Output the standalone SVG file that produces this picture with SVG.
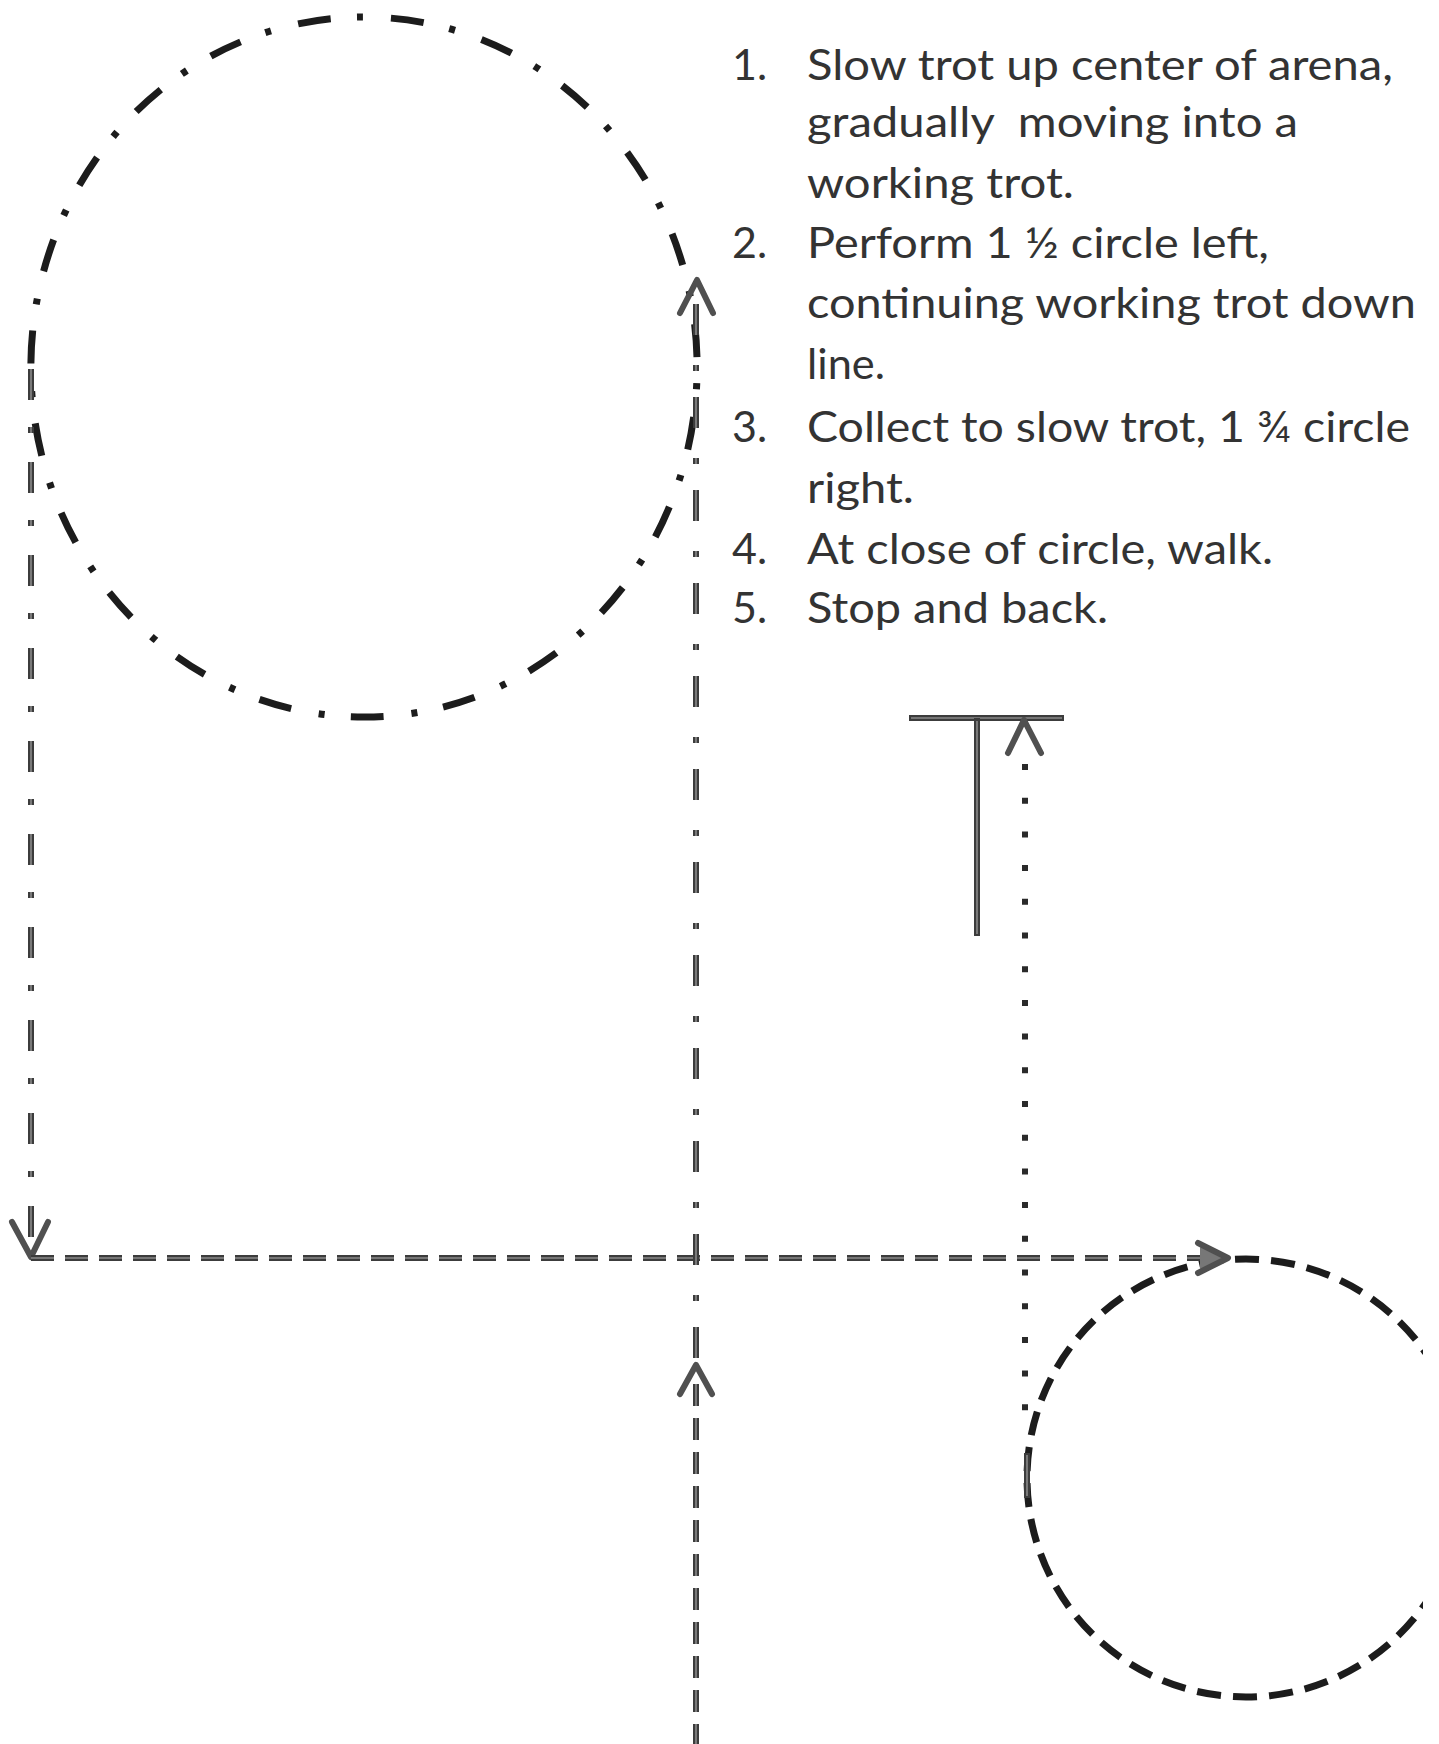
<svg xmlns="http://www.w3.org/2000/svg" width="1439" height="1744" viewBox="0 0 1439 1744">
<style>
.txt{font-family:Lato,'Noto Sans',sans-serif;font-size:43px;fill:#333}
.blk{fill:none;stroke:#1c1c1c;stroke-width:7}
.gry{fill:none;stroke:#3c3c3c;stroke-width:6}
.gin{fill:none;stroke:#8a8a8a;stroke-width:1.6}
.arw{fill:none;stroke:#505050;stroke-width:6;stroke-linecap:round;stroke-linejoin:round}
</style>
<defs>
<clipPath id="pageclip"><rect x="0" y="0" width="1423" height="1744"/></clipPath>
</defs>
<rect width="1439" height="1744" fill="#fff"/>

<g id="circle-left">
<path class="blk" d="M364 17 A333 350 0 1 1 364 717 A333 350 0 1 1 364 17" pathLength="2146" stroke-dasharray="6 28 33 26.3" stroke-dashoffset="7"/>
</g>

<g id="circle-right" clip-path="url(#pageclip)">
<path class="blk" d="M1246 1259 A219 219 0 1 1 1246 1697 A219 219 0 1 1 1246 1259" pathLength="1368" stroke-dasharray="24 12" stroke-dashoffset="11"/>
</g>

<g id="stop-marker">
<line class="gry" x1="909" y1="718" x2="1064" y2="718"/>
<line class="gin" x1="911" y1="718" x2="1062" y2="718"/>
<line class="gry" x1="977" y1="718" x2="977" y2="936"/>
<line class="gin" x1="977" y1="721" x2="977" y2="934"/>
</g>

<g id="connectors">
<!-- left line down from circle -->
<line class="gry" x1="31" y1="369" x2="31" y2="1252" stroke-dasharray="31 27 6 29"/>
<line class="gin" x1="31" y1="369" x2="31" y2="1252" stroke-dasharray="31 27 6 29"/>
<polyline class="arw" points="12,1222 31,1257 48,1222"/>
<!-- horizontal line to right circle -->
<line class="gry" x1="31" y1="1258" x2="1222" y2="1258" stroke-dasharray="23 11"/>
<line class="gin" x1="31" y1="1258" x2="1222" y2="1258" stroke-dasharray="23 11"/>
<path d="M1200 1247 L1228 1258 L1200 1269 Z" fill="#777"/>
<polyline class="arw" points="1198,1243 1228,1258 1198,1273"/>
<!-- center line lower (dashed) -->
<line class="gry" x1="696" y1="1384" x2="696" y2="1744" stroke-dasharray="22 12"/>
<line class="gin" x1="696" y1="1384" x2="696" y2="1744" stroke-dasharray="22 12"/>
<polyline class="arw" points="680,1394 696,1365 712,1394"/>
<!-- center line upper (dash-dot) -->
<line class="gry" x1="696" y1="1358" x2="696" y2="300" stroke-dasharray="31 26 6 30"/>
<line class="gin" x1="696" y1="1358" x2="696" y2="300" stroke-dasharray="31 26 6 30"/>
<polyline class="arw" points="680,313 697,280 713,313"/>
<!-- dotted walk line -->
<line x1="1025" y1="764" x2="1025" y2="1420" stroke="#2a2a2a" stroke-width="6" stroke-dasharray="6 27.7"/>
<polyline class="arw" points="1008,753 1024,720 1041,753"/>
<line class="gry" x1="1027" y1="1453" x2="1027" y2="1498"/>
<line class="gin" x1="1027" y1="1455" x2="1027" y2="1496"/>
</g>

<g id="instructions">
<g id="item-1">
<text class="txt" x="732" y="80">1.</text>
<text class="txt" x="807" y="80" textLength="586" lengthAdjust="spacingAndGlyphs">Slow trot up center of arena,</text>
<text class="txt" x="807" y="137" textLength="491" lengthAdjust="spacingAndGlyphs" xml:space="preserve">gradually  moving into a</text>
<text class="txt" x="807" y="198" textLength="267" lengthAdjust="spacingAndGlyphs">working trot.</text>
</g>
<g id="item-2">
<text class="txt" x="732" y="258">2.</text>
<text class="txt" x="807" y="258" textLength="462" lengthAdjust="spacingAndGlyphs">Perform 1 ½ circle left,</text>
<text class="txt" x="807" y="318" textLength="609" lengthAdjust="spacingAndGlyphs">continuing working trot down</text>
<text class="txt" x="807" y="379" textLength="78" lengthAdjust="spacingAndGlyphs">line.</text>
</g>
<g id="item-3">
<text class="txt" x="732" y="442">3.</text>
<text class="txt" x="807" y="442" textLength="603" lengthAdjust="spacingAndGlyphs">Collect to slow trot, 1 ¾ circle</text>
<text class="txt" x="807" y="503" textLength="107" lengthAdjust="spacingAndGlyphs">right.</text>
</g>
<g id="item-4">
<text class="txt" x="732" y="564">4.</text>
<text class="txt" x="807" y="564" textLength="466" lengthAdjust="spacingAndGlyphs">At close of circle, walk.</text>
</g>
<g id="item-5">
<text class="txt" x="732" y="623">5.</text>
<text class="txt" x="807" y="623" textLength="301" lengthAdjust="spacingAndGlyphs">Stop and back.</text>
</g>
</g>
</svg>
